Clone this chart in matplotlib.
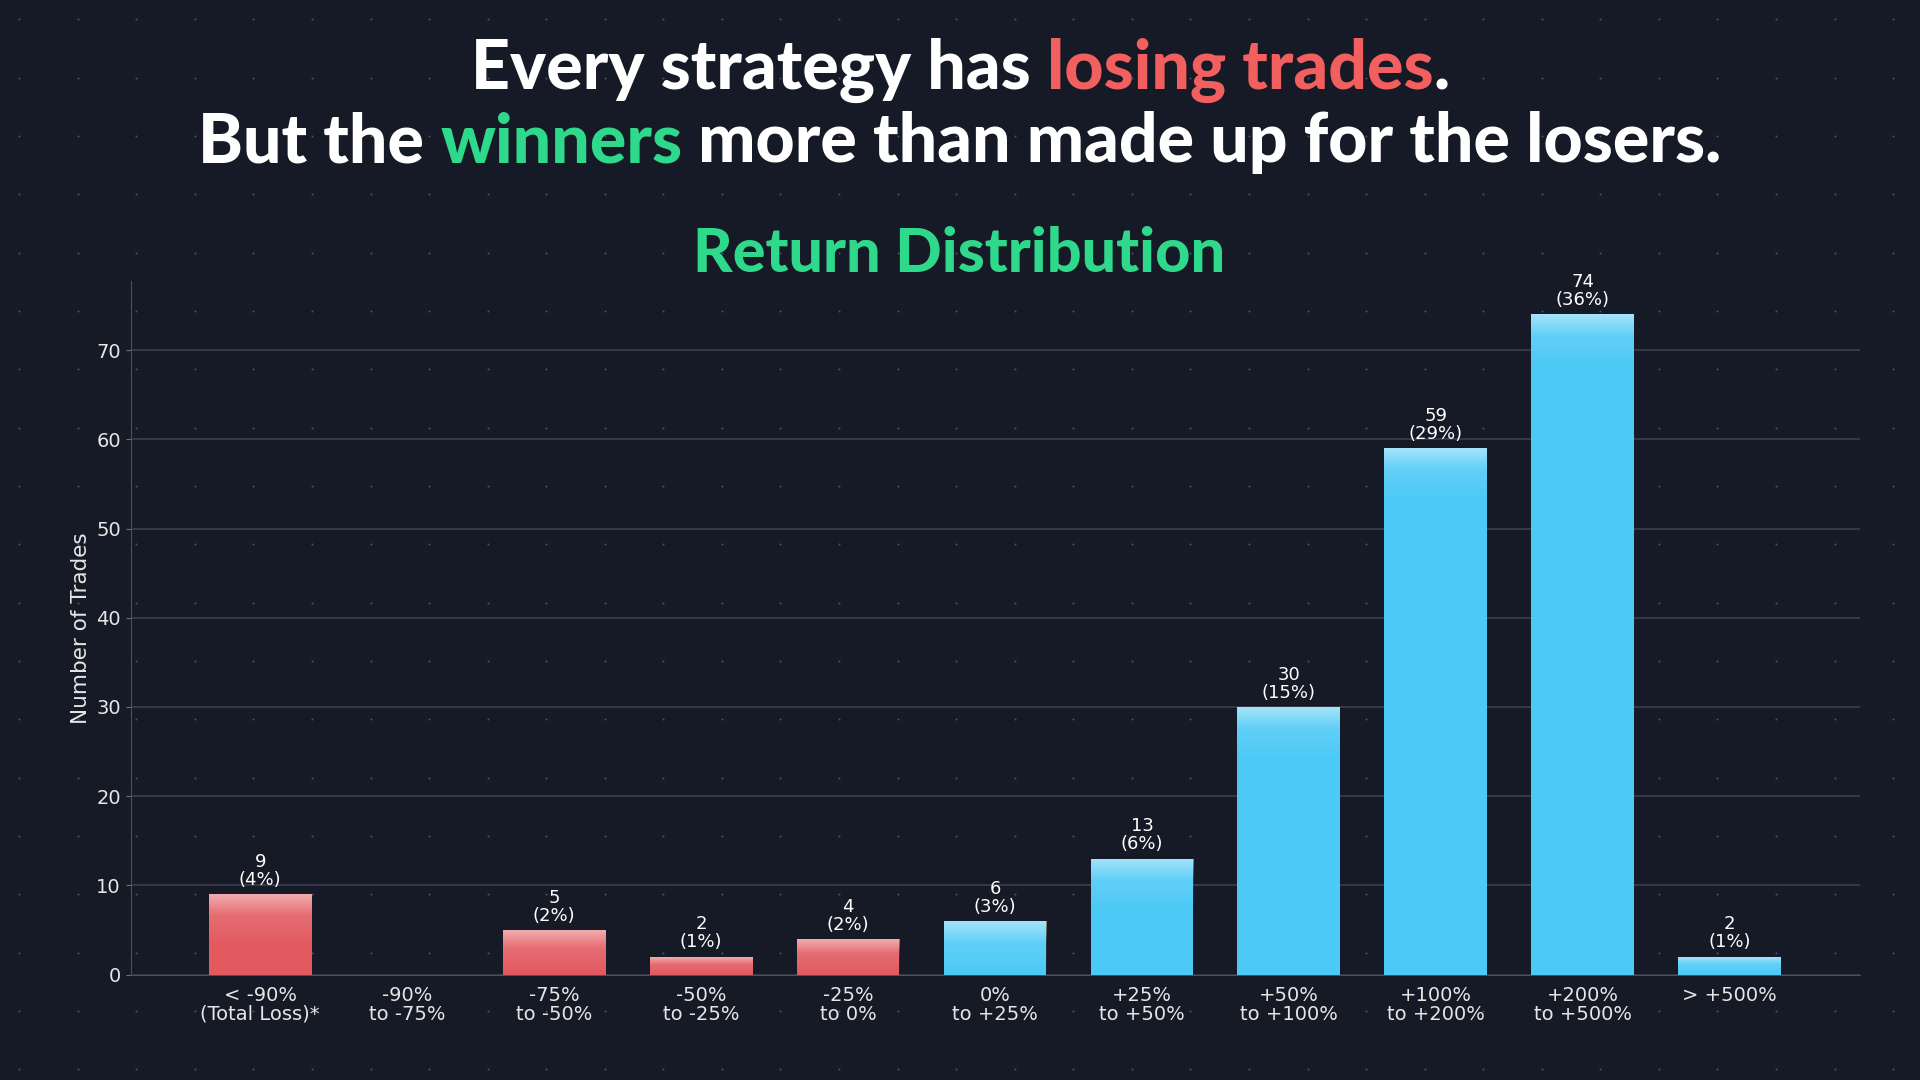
import matplotlib.pyplot as plt
import numpy as np
from matplotlib.colors import LinearSegmentedColormap
from matplotlib.patches import Rectangle

# data
categories = ["< -90%\n(Total Loss)*", "-90%\nto -75%", "-75%\nto -50%", "-50%\nto -25%",
              "-25%\nto 0%", "0%\nto +25%", "+25%\nto +50%", "+50%\nto +100%",
              "+100%\nto +200%", "+200%\nto +500%", "> +500%"]
counts = [9, 0, 5, 2, 4, 6, 13, 30, 59, 74, 2]
shares = [4, 0, 2, 1, 2, 3, 6, 15, 29, 36, 1]
is_loss = [True, True, True, True, True, False, False, False, False, False, False]

BG = "#161a26"
RED = "#e2595f"
BLUE = "#4cc9f6"
TITLE_RED = "#f25f5f"
TITLE_GREEN = "#2fd98c"

fig = plt.figure(figsize=(19.2, 10.8), dpi=100, facecolor=BG)

# dotted background
bg = fig.add_axes([0, 0, 1, 1], zorder=-10)
bg.set_axis_off()
bg.set_xlim(0, 1)
bg.set_ylim(0, 1)
gx, gy = np.meshgrid(np.arange(0.01, 1, 0.0305), np.arange(0.01, 1, 0.054))
bg.scatter(gx.ravel(), gy.ravel(), s=2.0, color="#4a5368", lw=0)

ax = fig.add_axes([0.068, 0.0975, 0.901, 0.642])
ax.set_facecolor("none")
x = np.arange(len(categories))
width = 0.7
glow = LinearSegmentedColormap.from_list(
    "glow", [(0, (1, 1, 1, 0)), (0.6, (1, 1, 1, 0.12)), (1, (1, 1, 1, 0.5))])

for xi, c, s, loss in zip(x, counts, shares, is_loss):
    if c == 0:
        continue
    base = RED if loss else BLUE
    bar = Rectangle((xi - width / 2, 0), width, c, facecolor=base, edgecolor="none", zorder=3)
    ax.add_patch(bar)
    # light glow near top of bar, fixed height
    h = min(c, 6)
    im = ax.imshow(np.linspace(0, 1, 100).reshape(-1, 1),
                   extent=(xi - width / 2, xi + width / 2, c - h, c), origin="lower",
                   cmap=glow, aspect="auto", zorder=4)
    im.set_clip_path(bar)
    ax.text(xi, c + 0.6, f"{c}\n({s}%)", ha="center", va="bottom", color="white",
            fontsize=13, linespacing=1.0, zorder=5)

ax.set_xlim(-0.883, 10.89)
ax.set_ylim(0, 77.7)
ax.set_xticks(x)
ax.set_xticklabels(categories, color="#e6e6e6", fontsize=14, linespacing=1.0)
ax.set_yticks(np.arange(0, 71, 10))
ax.tick_params(axis="y", colors="#e6e6e6", labelsize=14, color="#6a7080")
ax.tick_params(axis="x", length=0, pad=8)
ax.grid(axis="y", color="#3a3f4e", lw=1.2, zorder=0)
ax.set_axisbelow(True)
for side in ["top", "right"]:
    ax.spines[side].set_visible(False)
for side in ["left", "bottom"]:
    ax.spines[side].set_color("#4a5060")
ax.set_ylabel("Number of Trades", color="#e6e6e6", fontsize=15.5)

ax.text(0.479, 1.04, "Return Distribution", transform=ax.transAxes, ha="center",
        va="center", color=TITLE_GREEN, fontsize=44, fontweight="black", family="Lato")


def colored_line(parts, y, size):
    renderer = fig.canvas.get_renderer()
    texts = []
    for s, col in parts:
        t = fig.text(0, y, s, color=col, fontsize=size, fontweight="black",
                     family="Lato", va="center")
        texts.append(t)
    widths = [t.get_window_extent(renderer).width / fig.bbox.width for t in texts]
    xpos = 0.5 - sum(widths) / 2
    for t, w in zip(texts, widths):
        t.set_x(xpos)
        xpos += w


colored_line([("Every strategy has ", "white"), ("losing trades", TITLE_RED), (".", "white")],
             0.935, 49)
colored_line([("But the ", "white"), ("winners", TITLE_GREEN),
              (" more than made up for the losers.", "white")], 0.868, 49)

fig.savefig("out.png", dpi=100, facecolor=BG)
